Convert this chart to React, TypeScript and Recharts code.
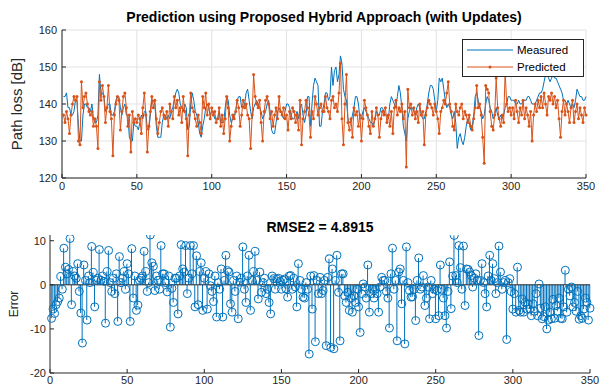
import { LineChart, Line, XAxis, YAxis, CartesianGrid, ComposedChart, Bar, ReferenceLine } from 'recharts'

// path loss samples 1..350
const MEASURED = [
  142, 142, 143, 139, 139, 137, 137, 138, 141, 141,
  134, 130, 130, 137, 140, 140, 139, 139, 138, 140,
  136, 135, 135, 137, 148, 143, 143, 142, 138, 139,
  140, 140, 137, 137, 138, 141, 142, 142, 139, 137,
  139, 140, 137, 137, 131, 130, 130, 135, 134, 134,
  133, 135, 137, 136, 138, 138, 133, 133, 137, 141,
  141, 140, 134, 131, 131, 131, 135, 137, 137, 136,
  137, 136, 138, 139, 141, 143, 144, 143, 140, 139,
  138, 140, 139, 133, 134, 140, 143, 141, 138, 137,
  135, 132, 131, 134, 136, 139, 140, 139, 137, 138,
  138, 136, 136, 136, 138, 135, 135, 135, 139, 142,
  141, 137, 135, 136, 137, 138, 141, 142, 142, 139,
  139, 140, 143, 144, 141, 138, 136, 139, 140, 141,
  140, 139, 138, 136, 137, 138, 140, 141, 138, 133,
  132, 132, 135, 138, 139, 138, 137, 136, 138, 140,
  140, 139, 137, 136, 136, 137, 138, 136, 139, 140,
  137, 135, 137, 142, 142, 134, 140, 145, 147, 146,
  145, 134, 134, 138, 140, 143, 143, 141, 142, 150,
  145, 149, 150, 146, 148, 153, 151, 144, 142, 141,
  136, 135, 135, 137, 139, 142, 142, 140, 136, 136,
  138, 139, 138, 137, 136, 135, 135, 134, 136, 138,
  137, 137, 139, 139, 138, 137, 137, 136, 140, 142,
  141, 140, 139, 142, 145, 143, 139, 134, 132, 130,
  136, 138, 139, 139, 138, 137, 139, 140, 139, 137,
  136, 136, 138, 140, 143, 145, 145, 144, 141, 138,
  141, 147, 146, 147, 144, 141, 139, 140, 139, 137,
  136, 138, 135, 128, 131, 132, 130, 129, 131, 134,
  136, 135, 133, 134, 137, 142, 143, 141, 139, 138,
  136, 137, 140, 142, 141, 139, 138, 136, 137, 139,
  137, 136, 137, 136, 137, 139, 140, 142, 142, 141,
  141, 141, 140, 140, 141, 140, 140, 141, 141, 141,
  142, 142, 141, 140, 140, 140, 141, 142, 143, 143,
  144, 146, 148, 148, 147, 146, 147, 148, 147, 147,
  146, 145, 144, 143, 141, 141, 140, 141, 140, 139,
  140, 139, 141, 144, 143, 142, 142, 141, 141, 142,
]

const PREDICTED = [
  137, 135, 138, 136, 132, 137, 140, 142, 141, 142,
  130, 129, 146, 139, 142, 143, 140, 138, 137, 138,
  134, 136, 134, 128, 146, 141, 145, 142, 135, 139,
  145, 138, 136, 126, 137, 140, 142, 141, 133, 138,
  142, 143, 139, 134, 137, 127, 138, 135, 136, 135,
  137, 136, 132, 139, 143, 137, 127, 134, 138, 142,
  139, 141, 136, 132, 135, 138, 139, 137, 136, 138,
  134, 140, 138, 136, 142, 139, 141, 137, 139, 135,
  142, 138, 136, 126, 137, 143, 139, 138, 136, 134,
  137, 135, 132, 142, 139, 143, 137, 140, 136, 139,
  137, 138, 135, 136, 139, 134, 137, 132, 136, 142,
  139, 130, 134, 137, 136, 138, 141, 139, 134, 137,
  141, 139, 140, 137, 136, 128, 137, 148, 142, 140,
  139, 141, 135, 130, 138, 141, 142, 140, 136, 138,
  134, 137, 139, 136, 142, 138, 137, 139, 136, 137,
  133, 138, 136, 139, 138, 135, 137, 133, 141, 129,
  136, 138, 141, 139, 137, 131, 138, 136, 142, 140,
  137, 139, 140, 138, 138, 142, 139, 138, 136, 141,
  142, 139, 140, 138, 143, 151, 136, 129, 140, 148,
  135, 133, 136, 131, 139, 137, 138, 134, 137, 130,
  136, 141, 139, 137, 134, 132, 138, 134, 136, 139,
  137, 131, 136, 138, 137, 139, 135, 137, 134, 138,
  132, 139, 141, 137, 139, 138, 140, 136, 138, 123,
  144, 139, 140, 137, 139, 136, 138, 135, 140, 137,
  138, 129, 137, 139, 141, 140, 139, 137, 140, 138,
  136, 132, 138, 139, 141, 140, 143, 146, 140, 138,
  134, 133, 140, 138, 137, 139, 140, 136, 138, 137,
  135, 137, 134, 133, 136, 139, 145, 139, 140, 137,
  131, 124, 145, 144, 143, 138, 134, 133, 137, 147,
  139, 136, 134, 137, 135, 149, 140, 138, 139, 137,
  139, 136, 141, 138, 135, 139, 137, 141, 136, 139,
  137, 134, 138, 130, 137, 140, 138, 141, 139, 142,
  139, 143, 140, 137, 142, 141, 143, 140, 142, 139,
  141, 136, 131, 138, 141, 137, 140, 138, 135, 139,
  141, 135, 138, 140, 136, 139, 137, 135, 139, 137,
]

// prediction error per sample
const ERRORS = [
  -7.6, -5.5, -6.5, -4.5, -3.8, -3, 1.9, -1, 8.3, 4,
  2.5, 3.5, 10.5, -4.5, 3, 2, 1.5, 4.8, -1.5, -6.4,
  -13.2, 4.5, 1, -8, 2, 0.5, 8.7, 2.8, -5, 1,
  1.5, 8, 1, 2, 0.8, -8.7, 3, 7.8, 0.5, -1.5,
  1.5, -2, 2.5, -8.3, 6.4, 0.5, 1.5, 3, -1, 4.8,
  2.5, -8.3, 8.2, -3, 2, -5.8, -4.6, 1, 1.5, 2,
  7.6, 3, -1.5, 0.5, 11.3, 5, 4.2, -1.3, 2, 1,
  -1, 8.9, 2.5, 2.5, 0.5, -1.6, 2, -9.6, -0.8, -4,
  1.5, 1.5, -6.6, 2, 9.1, 3.6, 2.9, 8.9, -2, 1.5,
  8.9, 2.5, 8.9, -5, 6.6, -4.5, 3, 5, -5.8, 1.5,
  3, -5.5, 2.5, -0.2, -1.5, -3.8, 2, -7.3, 0.5, -1,
  3.6, -7.3, 1, 6.7, 3.2, 2.9, -4.3, -6.2, 1, -1.5,
  2, -7.7, 0.6, 1.5, 8.6, -1, -4, 2, 6.7, -5.8,
  1, 3, 7.6, 1, -3.2, 2.9, -1.7, 0.5, 1.5, -2,
  -1, -4, -6.6, 2, 1.4, -1, 1.3, 1.5, 0.8, -1,
  1, 1.3, -0.9, -2.8, 2, 2.1, -1, 1.5, -0.5, -5,
  4.8, 1, -1, -2.8, -3, 0.5, -1, -15.7, 2, -5.5,
  2.1, -12.9, 1, -2, 1.7, -2, -1.3, 1, -13.8, 1.7,
  5.9, -14.2, 3.6, -14.5, 1, 6.7, -1.7, -12.7, 2.5, 2.5,
  -2.5, -4, -1.7, -5.8, -3, -6.2, -2.5, -4, -1, -5,
  -10.8, -2, 0.2, -0.5, -3, 4.5, -6.2, -2, -1, -3,
  -1, -2, -6.2, -0.5, 1.7, 1, 1, -1.5, -3, -9.8,
  2.5, 8.3, -1, 1, -12.7, 2.9, 3.6, -4.3, 1, -13.4,
  8.6, 0.5, -1.3, -2.8, -2.7, -1, -8.1, 1, 6.1, -1,
  -0.5, 2.1, -4.7, -3, -0.5, -7.7, 1, -2, -1, -7.7,
  -1.3, -7, 4.5, -1, -3, -7, -9.8, -1.5, 5.2, -5.4,
  2, 11.2, 2.1, 0.5, 8.9, 3.9, -1, 8.8, -4.7, 3.6,
  3.5, 2.9, 2.1, -0.5, 1.5, 2.5, 1, -11.5, 1, 4.8,
  0.5, -2, -5, 2, 6.7, 1, 4.8, 1.4, -2, 0.5,
  8.8, 2.9, -1, 0.5, 1, -12.4, 0.5, 1.4, -1.5, -5.5,
  -2, -6.2, 4, -5.8, -6.2, -3.2, -6.2, -4, -5.5, -4.4,
  -5.5, -7, -4.3, -6, -2, -7, 0.2, -5.3, -7.7, -7.2,
  -5, -10, -8, -6.2, -7.7, -3.3, -7.6, -4.7, -6, -3,
  -7.6, -7.7, -5, 3.3, -6.2, -1, -2.5, -0.5, -5, -4,
  -6, -1.5, -7.8, -7, -7.6, -5.5, -3, -4, -8, -5.3,
]

const X_TICKS = [0, 50, 100, 150, 200, 250, 300, 350]
const PATHLOSS_TICKS = [120, 130, 140, 150, 160]
const ERROR_TICKS = [-20, -10, 0, 10]

const BLUE = '#0072BD'
const ORANGE = '#D95319'
const AXIS = '#262626'
const FONT = '"Liberation Sans", Arial, Helvetica, sans-serif'

const tickStyle = { fill: AXIS, fontSize: 11, fontFamily: FONT }

const topData = MEASURED.map((m, i) => ({ x: i + 1, measured: m, predicted: PREDICTED[i] }))
const errData = ERRORS.map((e, i) => ({ x: i + 1, err: e }))

export default function App() {
  return (
    <div style={{ position: 'absolute', left: 0, top: 0, width: 602, height: 390, background: '#fff', fontFamily: FONT }}>
      {/* upper panel: measured vs predicted */}
      <div style={{ position: 'absolute', left: 0, top: 0 }}>
        <LineChart width={602} height={205} data={topData} margin={{ top: 30, right: 16, bottom: 5, left: 22 }}>
          <CartesianGrid stroke="#e3e3e3" />
          <XAxis dataKey="x" type="number" domain={[0, 350]} ticks={X_TICKS} interval={0} height={22}
            stroke={AXIS} tick={tickStyle} tickSize={-4} tickMargin={8} />
          <XAxis xAxisId="top" orientation="top" type="number" domain={[0, 350]} ticks={X_TICKS} height={0}
            stroke={AXIS} tick={false} tickSize={-4} />
          <YAxis domain={[120, 160]} ticks={PATHLOSS_TICKS} interval={0} width={40}
            stroke={AXIS} tick={tickStyle} tickSize={-4} tickMargin={9} />
          <YAxis yAxisId="right" orientation="right" domain={[120, 160]} ticks={PATHLOSS_TICKS} width={0}
            stroke={AXIS} tick={false} tickSize={-4} />
          <Line dataKey="measured" stroke={BLUE} strokeWidth={1} dot={false} isAnimationActive={false} />
          <Line dataKey="predicted" stroke={ORANGE} strokeWidth={1} dot={{ r: 1.5, fill: ORANGE, stroke: 'none' }} isAnimationActive={false} />
        </LineChart>
      </div>

      {/* lower panel: error stems */}
      <div style={{ position: 'absolute', left: 0, top: 210 }}>
        <ComposedChart width={602} height={180} data={errData} margin={{ top: 25, right: 12, bottom: 0, left: 20 }}>
          <XAxis dataKey="x" type="number" domain={[0, 350]} ticks={X_TICKS} interval={0} height={17}
            stroke={AXIS} tick={tickStyle} tickSize={-4} tickMargin={7} />
          <XAxis xAxisId="top" orientation="top" type="number" domain={[0, 350]} ticks={X_TICKS} height={0}
            stroke={AXIS} tick={false} tickSize={-4} />
          <YAxis domain={[-20, 11.3]} ticks={ERROR_TICKS} interval={0} width={30} allowDataOverflow
            stroke={AXIS} tick={tickStyle} tickSize={-4} tickMargin={8} />
          <YAxis yAxisId="right" orientation="right" domain={[-20, 11.3]} ticks={ERROR_TICKS} width={0}
            stroke={AXIS} tick={false} tickSize={-4} />
          <ReferenceLine y={0} stroke={AXIS} />
          <Bar dataKey="err" fill={BLUE} barSize={1} isAnimationActive={false} />
          <Line dataKey="err" stroke="none" dot={{ r: 4, fill: 'none', stroke: BLUE, strokeWidth: 1 }} isAnimationActive={false} />
        </ComposedChart>
      </div>

      {/* titles and axis labels */}
      <div style={{ position: 'absolute', left: 62, width: 524, top: 9, textAlign: 'center', fontWeight: 'bold', fontSize: 14, color: '#000' }}>
        Prediction using Proposed Hybrid Approach (with Updates)
      </div>
      <div style={{ position: 'absolute', left: 50, width: 540, top: 219, textAlign: 'center', fontWeight: 'bold', fontSize: 14, color: '#000' }}>
        RMSE2 = 4.8915
      </div>
      <div style={{ position: 'absolute', left: 16, top: 104, transform: 'translate(-50%, -50%) rotate(-90deg)', whiteSpace: 'nowrap', fontSize: 15, color: AXIS }}>
        Path loss [dB]
      </div>
      <div style={{ position: 'absolute', left: 14, top: 304, transform: 'translate(-50%, -50%) rotate(-90deg)', whiteSpace: 'nowrap', fontSize: 12, color: AXIS }}>
        Error
      </div>

      {/* legend */}
      <div style={{ position: 'absolute', left: 462, top: 39, width: 120, height: 36, border: `1px solid ${AXIS}`, background: '#fff', fontSize: 11.5, color: '#000' }}>
        <div style={{ position: 'absolute', left: 4, top: 4, display: 'flex', alignItems: 'center' }}>
          <svg width={46} height={10}><line x1={0} y1={5} x2={46} y2={5} stroke={BLUE} strokeWidth={1} /></svg>
          <span style={{ marginLeft: 4 }}>Measured</span>
        </div>
        <div style={{ position: 'absolute', left: 4, top: 21, display: 'flex', alignItems: 'center' }}>
          <svg width={46} height={10}>
            <line x1={0} y1={5} x2={46} y2={5} stroke={ORANGE} strokeWidth={1} />
            <circle cx={23} cy={5} r={1.5} fill={ORANGE} />
          </svg>
          <span style={{ marginLeft: 4 }}>Predicted</span>
        </div>
      </div>
    </div>
  )
}
